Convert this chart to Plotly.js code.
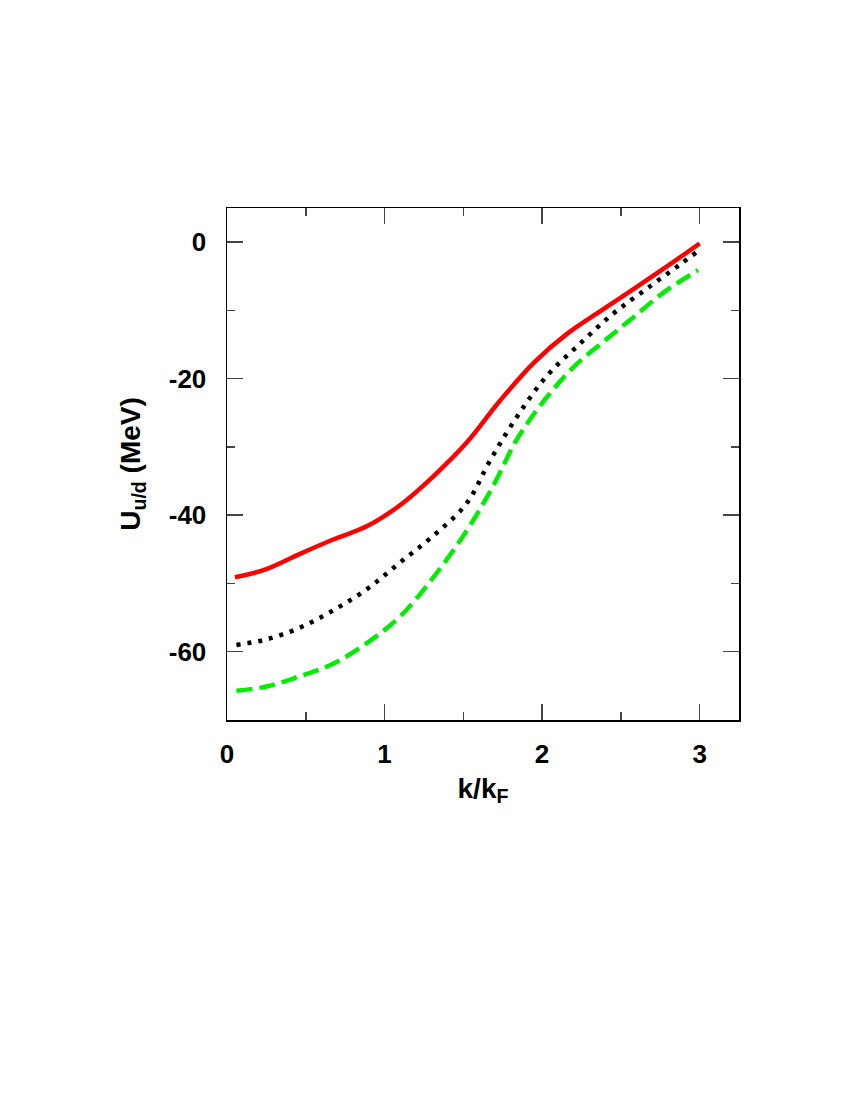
<!DOCTYPE html>
<html>
<head>
<meta charset="utf-8">
<script src="https://cdn.plot.ly/plotly-3.0.1.min.js"></script>
<style>
  body { margin: 0; background: #fff; }
  #chart { width: 850px; height: 1100px; }
</style>
</head>
<body>
<div id="chart"></div>
<script>
// momentum (k/kF) and single-particle potential (MeV)
const kRed = [0.05, 0.25, 0.46, 0.67, 0.89, 1.10, 1.31, 1.52, 1.73, 1.95, 2.16, 2.37, 2.58, 2.79, 3.0];
const uRed = [-49.1, -47.9, -45.7, -43.6, -41.6, -38.5, -34.3, -29.4, -23.3, -17.6, -13.4, -10.1, -6.9, -3.6, -0.2];

const kBlack = [0.06, 0.25, 0.46, 0.67, 0.89, 1.10, 1.31, 1.52, 1.67, 1.84, 2.03, 2.24, 2.45, 2.66, 2.88, 2.99];
const uBlack = [-59.0, -58.2, -56.5, -54.0, -50.8, -46.9, -43.0, -38.3, -32.0, -25.6, -19.6, -14.9, -10.5, -6.9, -3.2, -1.3];

const kGreen = [0.06, 0.25, 0.46, 0.67, 0.89, 1.10, 1.31, 1.52, 1.69, 1.84, 2.01, 2.20, 2.41, 2.58, 2.77, 2.99];
const uGreen = [-65.7, -65.1, -63.6, -61.8, -58.7, -54.8, -49.1, -42.3, -35.7, -28.9, -23.3, -18.3, -14.2, -11.0, -7.4, -4.1];

const xTicks = [0, 1, 2, 3];
const yTicks = [-60, -40, -20, 0];
const yTickText = ['-60', '-40', '-20', '0'];

const data = [
    { x: kRed, y: uRed, type: 'scatter', mode: 'lines',
      line: { color: '#ff0000', width: 4.5, shape: 'spline' } },
    { x: kBlack, y: uBlack, type: 'scatter', mode: 'lines',
      line: { color: '#000000', width: 4.5, dash: '4px,7px', shape: 'spline' } },
    { x: kGreen, y: uGreen, type: 'scatter', mode: 'lines',
      line: { color: '#00ee00', width: 4.5, dash: '16px,7px', shape: 'spline' } }
];

const fontFamily = 'Liberation Sans, Arial, sans-serif';
const tickFont = { family: fontFamily, size: 26, color: '#000', weight: 'bold' };
const titleFont = { family: fontFamily, size: 28, color: '#000' };

const layout = {
    width: 850,
    height: 1100,
    showlegend: false,
    paper_bgcolor: '#fff',
    plot_bgcolor: '#fff',
    margin: { l: 227, r: 111, t: 208, b: 380 },
    xaxis: {
        range: [0, 3.25],
        tickvals: xTicks,
        ticks: 'inside',
        ticklen: 16,
        tickwidth: 1.5,
        minor: { tickvals: [0.5, 1.5, 2.5], ticks: 'inside', ticklen: 8, tickwidth: 1.5 },
        showline: true,
        linewidth: 1.5,
        linecolor: '#000',
        mirror: 'allticks',
        showgrid: false,
        zeroline: false,
        tickfont: tickFont,
        ticklabelstandoff: 10,
        title: { text: '<b>k/k<sub>F</sub></b>', font: titleFont, standoff: 10 }
    },
    yaxis: {
        range: [-70, 5],
        tickvals: yTicks,
        ticktext: yTickText,
        ticks: 'inside',
        ticklen: 16,
        tickwidth: 1.5,
        minor: { tickvals: [-50, -30, -10], ticks: 'inside', ticklen: 8, tickwidth: 1.5 },
        showline: true,
        linewidth: 1.5,
        linecolor: '#000',
        mirror: 'allticks',
        showgrid: false,
        zeroline: false,
        tickfont: tickFont,
        ticklabelstandoff: 14,
        title: { text: '<b>U<sub>u/d</sub> (MeV)</b>', font: titleFont, standoff: 20 }
    }
};

Plotly.newPlot('chart', data, layout, { displayModeBar: false, staticPlot: true });
</script>
</body>
</html>
